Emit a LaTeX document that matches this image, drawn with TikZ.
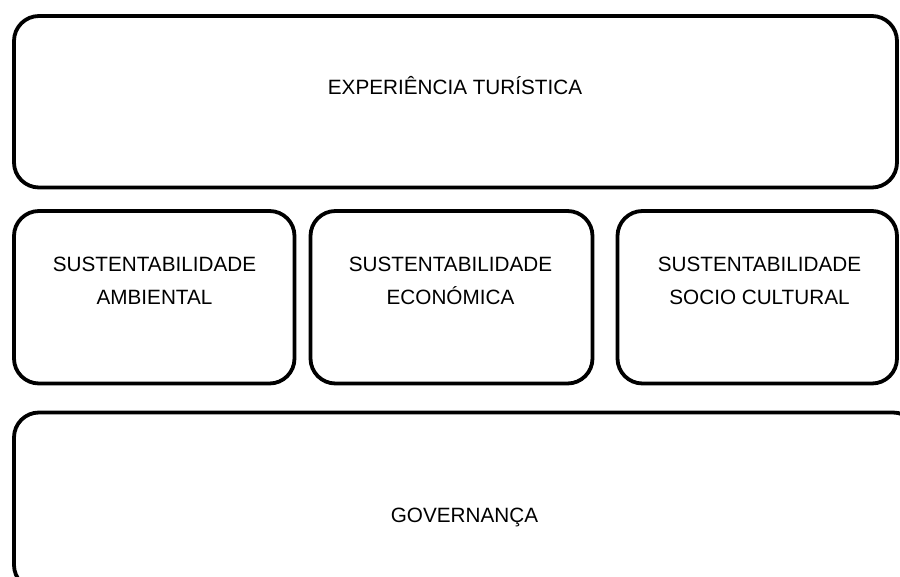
\documentclass[tikz,border=0pt]{standalone}
\usepackage{fontspec}
\setmainfont{Liberation Sans}
\begin{document}
\begin{tikzpicture}[x=1pt,y=-1pt,
  box/.style={draw=black, line width=3.8pt, rounded corners=25pt, rectangle, inner sep=0pt, outer sep=0pt},
  lbl/.style={font=\fontsize{20.7pt}{33pt}\selectfont, align=center, inner sep=0pt, anchor=base}]
\useasboundingbox (0,0) rectangle (900,577);
\clip (0,0) rectangle (900,577);
\fill[white] (0,0) rectangle (900,577);
\node[box, minimum width=883pt, minimum height=171.5pt] (top) at (455.5,101.75) {};
\node[box, minimum width=280.5pt, minimum height=172.5pt] (amb) at (154.25,297.25) {};
\node[box, minimum width=282pt, minimum height=172.5pt] (eco) at (451.5,297.25) {};
\node[box, minimum width=279.5pt, minimum height=172.5pt] (soc) at (757.25,297.25) {};
\node[box, minimum width=904pt, minimum height=177.5pt] (gov) at (466,501.25) {};
\node[lbl] (ttop) at (455,95) {EXPERIÊNCIA TURÍSTICA};
\node[lbl] (tamb) at (154.5,305) {SUSTENTABILIDADE\\AMBIENTAL};
\node[lbl] (teco) at (450.5,305) {SUSTENTABILIDADE\\ECONÓMICA};
\node[lbl] (tsoc) at (759.5,305) {SUSTENTABILIDADE\\SOCIO CULTURAL};
\node[lbl] (tgov) at (464.5,522) {GOVERNANÇA};
\end{tikzpicture}
\end{document}
